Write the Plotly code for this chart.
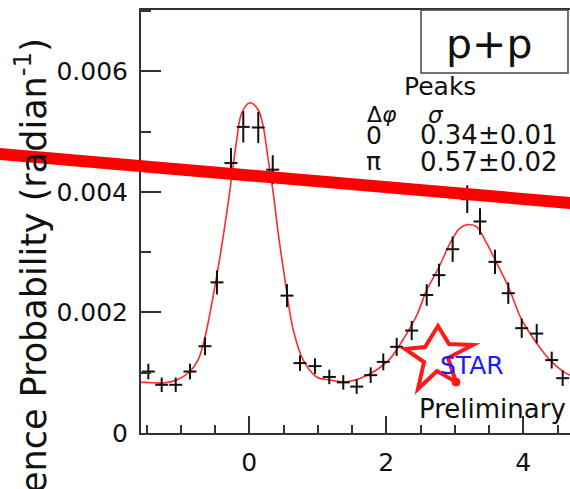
import plotly.graph_objects as go

# ---------------- data ----------------
dphi = [-1.474, -1.279, -1.074, -0.866, -0.647, -0.472, -0.267, -0.088, 0.131, 0.342,
        0.550, 0.740, 0.959, 1.168, 1.372, 1.568, 1.772, 1.956, 2.152, 2.371,
        2.590, 2.769, 2.969, 3.182, 3.368, 3.587, 3.781, 3.977, 4.196, 4.415, 4.575]
prob = [0.00102, 0.00080, 0.00080, 0.00102, 0.00144, 0.00250, 0.00448, 0.00508, 0.00507, 0.00437,
        0.00228, 0.00116, 0.00111, 0.00093, 0.00084, 0.00077, 0.00096, 0.00118, 0.00143, 0.00170,
        0.00229, 0.00262, 0.00305, 0.00388, 0.00351, 0.00284, 0.00232, 0.00174, 0.00165, 0.00121, 0.00091]
prob_err = [0.00013, 0.00012, 0.00012, 0.00013, 0.00015, 0.00020, 0.00025, 0.00026, 0.00026, 0.00024,
            0.00019, 0.00013, 0.00013, 0.00012, 0.00012, 0.00012, 0.00013, 0.00014, 0.00015, 0.00016,
            0.00018, 0.00019, 0.00021, 0.00023, 0.00022, 0.00020, 0.00018, 0.00016, 0.00016, 0.00014, 0.00013]
bin_half = 0.095

fit_x = [-1.581, -1.498, -1.255, -1.060, -0.866, -0.749, -0.695, -0.632, -0.467, -0.330,
         -0.257, -0.184, -0.111, 0.010, 0.131, 0.204, 0.277, 0.350, 0.423, 0.507,
         0.642, 0.788, 0.984, 1.178, 1.422, 1.664, 1.860, 2.054, 2.298, 2.444,
         2.590, 2.759, 2.955, 3.076, 3.197, 3.320, 3.466, 3.612, 3.781, 3.977,
         4.196, 4.390, 4.584, 4.682]
fit_y = [0.00084, 0.00084, 0.00083, 0.00088, 0.00102, 0.00121, 0.00138, 0.00166, 0.00266, 0.00365,
         0.00425, 0.00486, 0.00531, 0.00548, 0.00536, 0.00508, 0.00453, 0.00398, 0.00331, 0.00265,
         0.00171, 0.00121, 0.00093, 0.00088, 0.00085, 0.00093, 0.00105, 0.00123, 0.00165, 0.00195,
         0.00237, 0.00273, 0.00320, 0.00340, 0.00346, 0.00342, 0.00315, 0.00282, 0.00243, 0.00188,
         0.00149, 0.00121, 0.00102, 0.00096]

y_ticks = [0, 0.002, 0.004, 0.006]
y_ticktext = ["0", "0.002", "0.004", "0.006"]
x_ticks = [0, 2, 4]
x_ticktext = ["0", "2", "4"]

FONT = "DejaVu Sans"
W, H = 570, 489
L, R, T, B = 141, 0, 10, 56
PW, PH = W - L - R, H - T - B


def px(x):
    return (x - L) / PW


def py(y):
    return (H - B - y) / PH


fig = go.Figure()

fig.add_trace(go.Scatter(
    x=fit_x, y=fit_y, mode="lines", line=dict(color="#ff2a2a", width=1.6, shape="spline"),
    hoverinfo="skip", showlegend=False))

fig.add_trace(go.Scatter(
    x=dphi, y=prob, mode="markers",
    marker=dict(size=1, color="black"),
    error_x=dict(type="constant", value=bin_half, color="#111", thickness=2, width=0),
    error_y=dict(type="data", array=prob_err, color="#111", thickness=2, width=0),
    showlegend=False))

axis_color = "#333"
fig.update_xaxes(
    range=[-1.581, 4.682], showline=True, linecolor=axis_color, linewidth=2, mirror=True,
    showgrid=False, zeroline=False,
    tickvals=x_ticks, ticktext=x_ticktext, ticks="inside", ticklen=17, tickwidth=2,
    tickcolor=axis_color, ticklabelstandoff=6,
    minor=dict(dtick=0.5, tick0=0, ticks="inside", ticklen=8, tickwidth=2, tickcolor=axis_color),
    tickfont=dict(family=FONT, size=25, color="#111"))
fig.update_yaxes(
    range=[0, 0.00702], showline=True, linecolor=axis_color, linewidth=2, mirror=False,
    showgrid=False, zeroline=False,
    tickvals=y_ticks, ticktext=y_ticktext, ticks="inside", ticklen=20, tickwidth=2,
    tickcolor=axis_color, ticklabelstandoff=6,
    minor=dict(dtick=0.001, tick0=0, ticks="inside", ticklen=10, tickwidth=2, tickcolor=axis_color),
    tickfont=dict(family=FONT, size=25, color="#111"))

shapes = []
# p+p box
shapes.append(dict(type="rect", xref="paper", yref="paper",
                   x0=px(421), x1=px(568), y0=py(73), y1=py(10),
                   line=dict(color="#444", width=1.5), fillcolor="rgba(0,0,0,0)"))
# STAR logo star outline
star_pts = [(438, 326), (449, 344), (473, 345), (448, 358), (456, 382),
            (437, 371), (418, 389), (424, 362), (405, 349), (425, 347)]
path = "M " + " L ".join(f"{px(a):.5f},{py(b):.5f}" for a, b in star_pts) + " Z"
shapes.append(dict(type="path", xref="paper", yref="paper", path=path,
                   line=dict(color="#ff1a1a", width=4), fillcolor="rgba(0,0,0,0)"))
shapes.append(dict(type="circle", xref="paper", yref="paper",
                   x0=px(452), x1=px(460), y0=py(386), y1=py(378),
                   line=dict(color="#ff1a1a", width=1), fillcolor="#ff1a1a"))
# thick red marker line across the slide
shapes.append(dict(type="line", xref="paper", yref="paper",
                   x0=px(-20), y0=py(152.3), x1=px(590), y1=py(204.7),
                   line=dict(color="#ff0000", width=12)))

ann = []


def text(s, x, y, size, xanchor="left", yanchor="middle", color="#111", angle=0):
    ann.append(dict(text=s, xref="paper", yref="paper", x=px(x), y=py(y), showarrow=False,
                    xanchor=xanchor, yanchor=yanchor, textangle=angle,
                    font=dict(family=FONT, size=size, color=color)))


text("p+p", 489, 44, 41, xanchor="center")
text("Peaks", 440, 86, 25, xanchor="center")
text("Δ<i>φ</i>", 365, 114, 22)
text("<i>σ</i>", 426, 115, 23)
text("0", 364, 135, 25)
text("0.34±0.01", 418, 135, 26)
text("π", 364, 162, 25)
text("0.57±0.02", 418, 162, 26)
text("STAR", 438, 365, 25, color="#1a1aff")
text("Preliminary", 417, 409, 26)
text("Coincidence Probability (radian<sup>-1</sup>)", 31, 36, 35, xanchor="center",
     yanchor="top", angle=-90)

fig.update_layout(
    width=W, height=H, autosize=False,
    margin=dict(l=L, r=R, t=T, b=B, pad=0),
    paper_bgcolor="white", plot_bgcolor="white",
    shapes=shapes, annotations=ann, showlegend=False)

fig.write_html("out.html")
